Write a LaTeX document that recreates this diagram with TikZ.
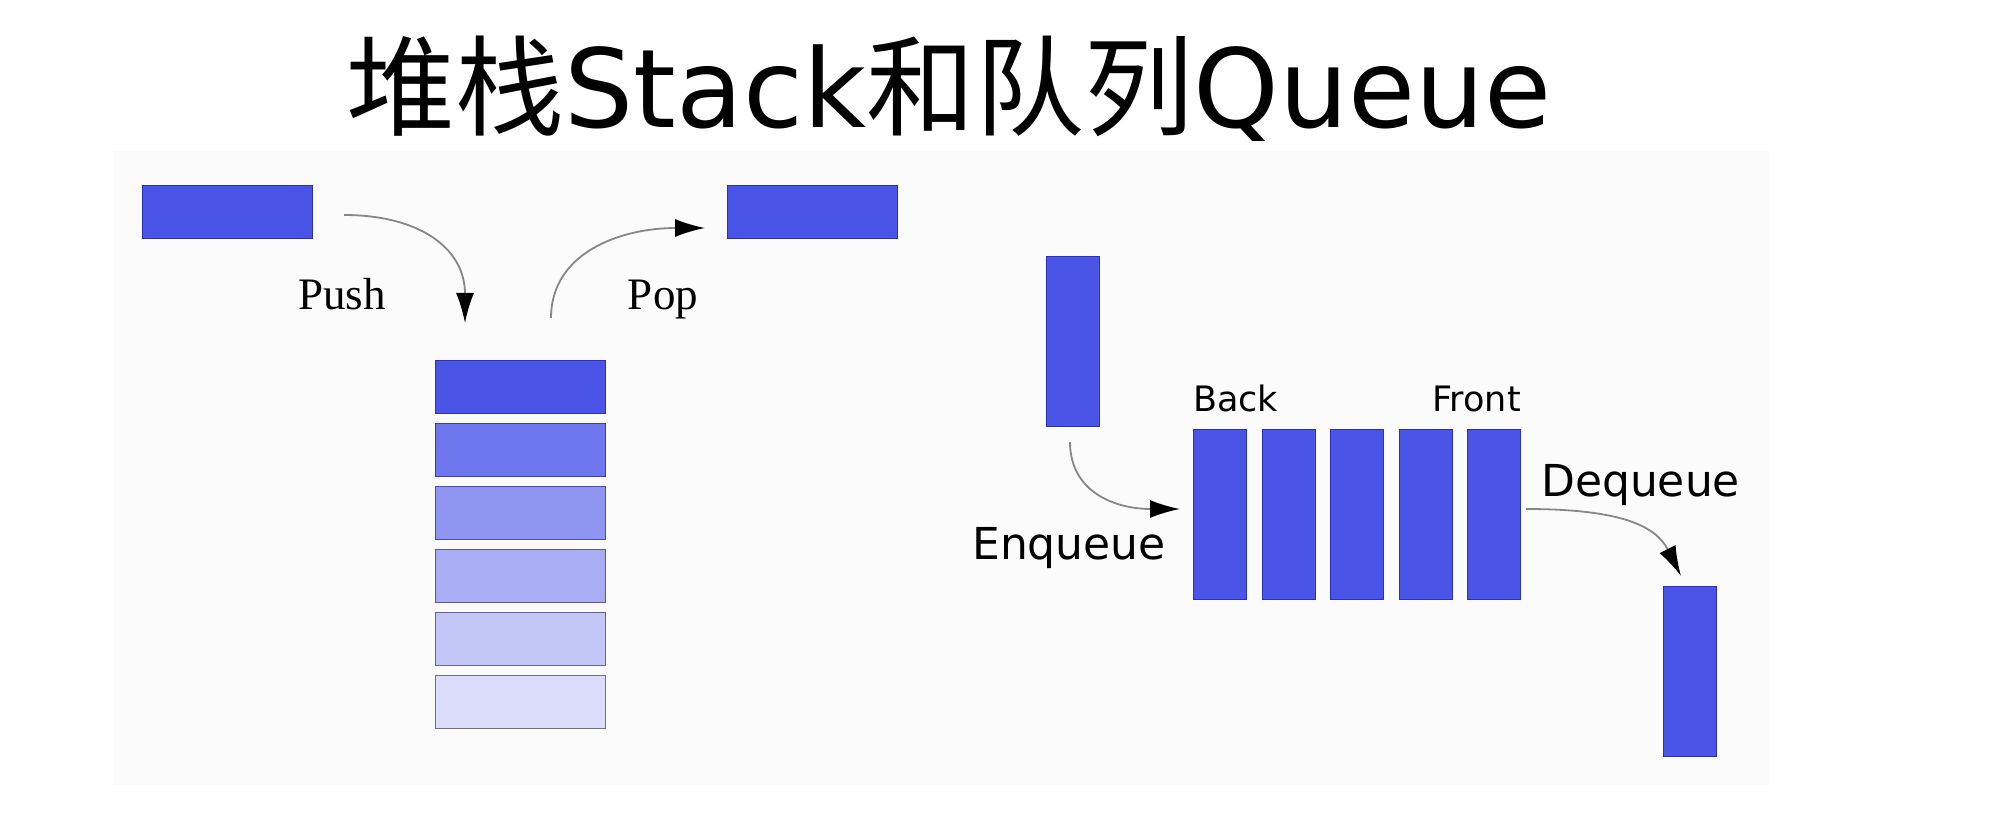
\documentclass[tikz,border=0pt]{standalone}
\usepackage{fontspec}
\setmainfont{Liberation Serif}
\newfontfamily\cjkfont{Noto Sans CJK SC}
\newfontfamily\latinfont{DejaVu Sans}
\usetikzlibrary{arrows.meta}
\definecolor{boxblue}{RGB}{74,85,232}
\definecolor{boxline}{RGB}{40,48,190}
\definecolor{arrowgray}{RGB}{135,135,135}

\begin{document}
\begin{tikzpicture}[x=1pt,y=-1pt,
    flat/.style={draw=boxline,fill=boxblue,line width=1pt,minimum width=170pt,minimum height=53pt,inner sep=0pt,anchor=north west},
    tall/.style={draw=boxline,fill=boxblue,line width=1pt,minimum width=53pt,minimum height=170pt,inner sep=0pt,anchor=north west},
    move/.style={draw=arrowgray,line width=1.8pt,-{Latex[length=30pt,width=18pt,color=black]}},
    serif/.style={inner sep=0pt,font=\fontsize{45}{50}\selectfont},
    sans/.style={inner sep=0pt,font=\fontsize{44}{50}\selectfont\latinfont},
    small/.style={inner sep=0pt,font=\fontsize{35}{40}\selectfont\latinfont}]
    \useasboundingbox (0,0) rectangle (2010,826);
    \fill[black!1.5] (113,151) rectangle (1769,785);
    % title
    \node[anchor=base,inner sep=0pt] (title) at (949,128) {\fontsize{109}{112}\selectfont\cjkfont 堆栈{\latinfont Stack}和队列{\latinfont Queue}};
    % stack
    \node[flat] (pushbox) at (142,185) {};
    \node[flat] (popbox) at (727,185) {};
    \foreach \p [count=\i] in {100,80,62,48,33,20}
        \node[flat,fill=boxblue!\p!white,draw=boxline!\p!gray] (s\i) at (435,{360+63*(\i-1)}) {};
    \coordinate (pushfrom) at (344,215);
    \coordinate (pushto) at (465,323);
    \coordinate (popfrom) at (551,318);
    \coordinate (popto) at (705,228);
    \draw[move] (pushfrom) .. controls +(75,0) and +(0,-75) .. (pushto);
    \draw[move] (popfrom) .. controls +(0,-65) and +(-85,0) .. (popto);
    \node[serif,anchor=base] (push) at (342,309) {Push};
    \node[serif,anchor=base] (pop) at (663,309) {Pop};
    % queue
    \node[tall] (inbox) at (1046,256) {};
    \foreach \i in {1,...,5}
        \node[tall] (q\i) at ({1193+68.5*(\i-1)},429) {};
    \node[tall] (outbox) at (1663,586) {};
    \coordinate (enqfrom) at (1070,442);
    \coordinate (enqto) at (1180,509);
    \coordinate (deqfrom) at (1526,509);
    \coordinate (deqto) at (1681,576);
    \draw[move] (enqfrom) .. controls +(0,50) and +(-65,0) .. (enqto);
    \draw[move] (deqfrom) .. controls +(95,0) and +(-25,-50) .. (deqto);
    \node[small,anchor=base west] (back) at (q1.north west |- 0,411) {Back};
    \node[small,anchor=base east] (front) at (q5.north east |- 0,411) {Front};
    \node[sans,anchor=base] (enq) at (1069,559) {Enqueue};
    \node[sans,anchor=base west] (deq) at (1541,496) {Dequeue};
\end{tikzpicture}
\end{document}
